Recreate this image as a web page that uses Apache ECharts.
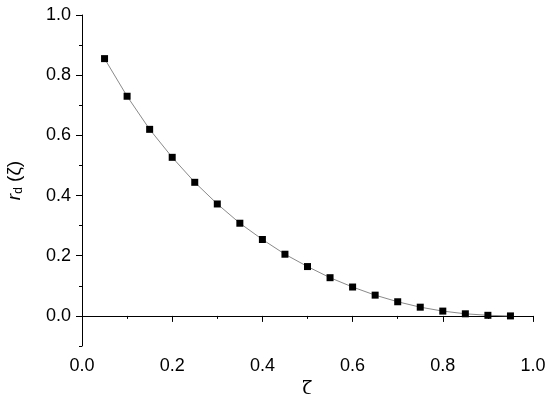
<!DOCTYPE html>
<html>
<head>
<meta charset="utf-8">
<script src="https://cdn.jsdelivr.net/npm/echarts@6/dist/echarts.min.js"></script>
<style>
  html, body { margin: 0; padding: 0; background: #fff; }
  #chart { width: 550px; height: 394px; }
</style>
</head>
<body>
<div id="chart"></div>
<script>
// zeta values and r_d(zeta)
const zeta = [0.05, 0.10, 0.15, 0.20, 0.25, 0.30, 0.35, 0.40, 0.45, 0.50,
  0.55, 0.60, 0.65, 0.70, 0.75, 0.80, 0.85, 0.90, 0.95]
const rd = [0.855, 0.730, 0.620, 0.527, 0.444, 0.372, 0.308, 0.254, 0.205, 0.164,
  0.127, 0.096, 0.069, 0.047, 0.029, 0.016, 0.007, 0.002, 0.000]

const yMajor = [0.0, 0.2, 0.4, 0.6, 0.8, 1.0]
const yMinor = [-0.1, 0.1, 0.3, 0.5, 0.7, 0.9]

const font = 'Liberation Sans, Arial, sans-serif'
const chart = echarts.init(document.getElementById('chart'))

const option = {
  backgroundColor: '#fff',
  animation: false,
  grid: { left: 82, right: 17, top: 15, bottom: 48, containLabel: false, outerBoundsMode: 'none' },
  xAxis: {
    type: 'value',
    min: 0,
    max: 1.0,
    interval: 0.2,
    name: 'ζ',
    nameLocation: 'middle',
    nameGap: 23,
    nameTextStyle: { fontFamily: 'DejaVu Serif, serif', fontSize: 19, color: '#000' },
    axisLine: { show: true, lineStyle: { color: '#000', width: 1 } },
    axisTick: { show: true, inside: false, length: 6, lineStyle: { color: '#000' } },
    minorTick: { show: true, splitNumber: 2, length: 3, lineStyle: { color: '#000' } },
    axisLabel: {
      fontFamily: font, fontSize: 18, color: '#000', margin: 11,
      formatter: v => v.toFixed(1)
    },
    splitLine: { show: false }
  },
  yAxis: [
    {
      type: 'value',
      min: -0.1,
      max: 1.0,
      name: '{i|r}{s|d} (ζ)',
      nameLocation: 'middle',
      nameRotate: 90,
      nameGap: 57,
      nameTextStyle: {
        fontFamily: font, fontSize: 19, color: '#000',
        rich: {
          i: { fontFamily: font, fontSize: 19, fontStyle: 'italic', color: '#000' },
          s: { fontFamily: font, fontSize: 12, color: '#000', padding: [9, 0, 0, 0] }
        }
      },
      axisLine: { show: true, lineStyle: { color: '#000', width: 1 } },
      axisTick: { show: true, length: 6, customValues: yMajor, lineStyle: { color: '#000' } },
      axisLabel: {
        fontFamily: font, fontSize: 18, color: '#000', margin: 11,
        customValues: yMajor,
        formatter: v => v.toFixed(1)
      },
      splitLine: { show: false }
    },
    {
      type: 'value',
      position: 'left',
      min: -0.1,
      max: 1.0,
      axisLine: { show: false },
      axisTick: { show: true, length: 3, customValues: yMinor, lineStyle: { color: '#000' } },
      axisLabel: { show: false },
      splitLine: { show: false }
    }
  ],
  series: [
    {
      type: 'line',
      data: zeta.map((z, i) => [z, rd[i]]),
      yAxisIndex: 0,
      symbol: 'rect',
      symbolSize: 7,
      itemStyle: { color: '#000' },
      lineStyle: { color: '#8a8a8a', width: 1 }
    }
  ]
}

chart.setOption(option)
</script>
</body>
</html>
